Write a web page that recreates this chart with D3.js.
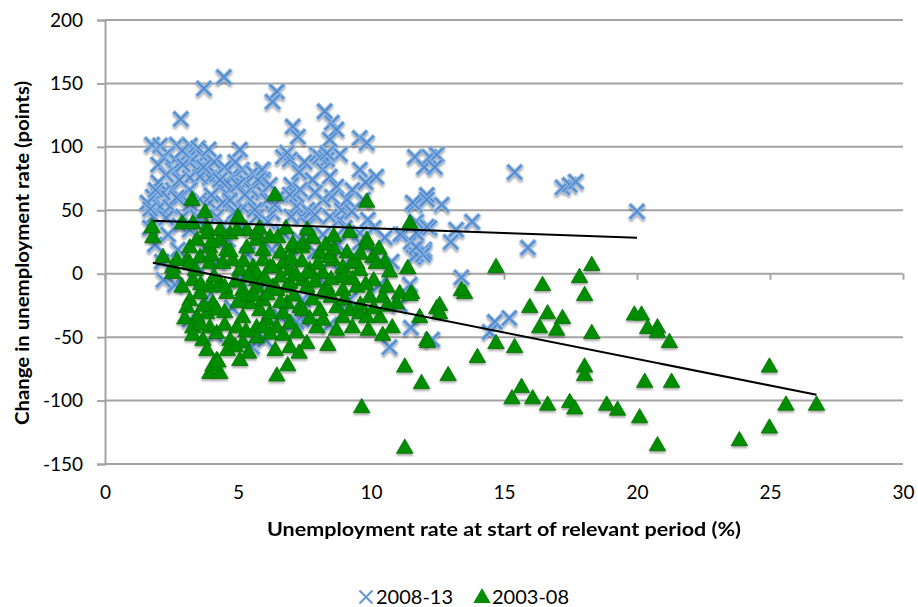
<!DOCTYPE html>
<html>
<head>
<meta charset="utf-8">
<script src="https://cdn.jsdelivr.net/npm/d3@7"></script>
<style>
  body { margin: 0; background: #fff; }
  svg { font-family: Lato, "Open Sans", sans-serif; }
</style>
</head>
<body>
<svg id="chart" width="918" height="607"></svg>
<script>
// Axis ticks
const xTicks = [0, 5, 10, 15, 20, 25, 30];
const yTicks = [-150, -100, -50, 0, 50, 100, 150, 200];

// Series names
const seriesNames = ["2008-13", "2003-08"];

// 2008-13: [unemployment rate at start (%), change in unemployment rate (points)]
const series2008 = [
  [4.47,155],[3.72,146],[2.85,122],[6.46,143.5],[6.3,135.6],
  [7.06,116],[7.25,108],[8.26,128],[8.53,119],[8.7,113.6],[8.45,105.7],[9.58,107],[9.84,103],
  [6.69,92],[6.95,90],[7.96,94],[8.34,90],[8.83,94],[8.19,82],[8.45,76.5],[9.58,82],[10.2,76.5],
  [7.0,70],[8.7,68.6],[8.53,60.7],[9.1,58.4],[8.2,58.4],[7.6,50.5],[5.94,82],[5.94,74],
  [6.84,95.4],[8.08,92],[8.34,95],
  [11.65,92],[12.2,92],[12.47,94],[12.0,84],[12.4,84],[15.4,80],[17.2,68],[17.47,70],[17.7,72.5],
  [12.1,62],[12.66,54.4],[11.65,54.4],[11.57,56],[12.1,58.4],[13.8,41],[13.2,34.7],[13.0,25],[12.2,36],[12.0,19],
  [15.9,20.5],[13.4,-3],[14.65,-38],[15.2,-35],[14.46,-46],[11.5,25],[12.0,17],[11.6,13],[11.2,31],[20.0,49],
  [11.5,-42.6],[12.3,-52],[11.7,15],[11.95,15],[10.7,-58],[11.7,21],[11.1,31],[11.7,32],[9.58,32],
  [7.4,-36],[6.6,-34],[7.1,-39],[10.1,36],
  [7.2,53],[7.4,45],[7.7,48],[8.45,45],[8.83,42.6],[11.7,41],[12.1,37],
  [1.77,101.7],[2.07,101],[2.7,101.7],[3.19,101],[3.5,99],[5.07,97.8],[2.37,95],[3.08,94],[2.63,90],[3.3,90],
  [2.55,82],[2.93,86],[3.46,82],[3.94,75.7],[3.57,76.5],[3.19,75.7],[4.8,78],[5.15,82],[5.56,79.7],[5.9,82],
  [5.75,74],[5.33,71.8],[4.7,66.2],[4.32,68.6],[3.19,66.2],[2.55,66.2],[2.18,63.9],[1.8,60.7],[1.6,56],
  [2.07,52.8],[2.44,52.8],[2.82,60],[3.57,58.4],[3.94,56],[4.43,56],[5.45,58.4],[5.94,63.9],
  [2.93,45],[3.46,45],[4.2,45],[4.96,45],[5.7,45],[1.8,45],
  [2.2,92],[2.9,97],[3.7,92],[4.1,88],[4.5,84],[4.9,88],[3.9,98],[2.0,86],[2.3,78],[2.8,74],[3.7,84],
  [4.2,78],[4.6,72],[5.0,70],[5.5,66],[2.0,72],[1.9,66],[2.7,60],[3.2,55],[4.0,62],[4.7,58],[5.2,52],
  [6.1,58],[6.6,62],[6.3,48],[7.0,45],[2.3,44],[2.8,38],[3.6,40],[4.4,38],[1.7,51],
  [7.5,88],[7.3,80],[7.8,74],[7.2,62],[7.9,64],[8.9,50],[9.3,66],[9.8,72],
  [1.69,36.3],[1.88,22.9],[2.14,9.5],[2.37,30.8],[2.74,18.9],[3.19,34.7],[3.42,7.1],[3.76,20.5],[4.25,9.5],
  [4.62,26.8],[5.07,36.3],[5.37,15],[5.75,28.4],[6.12,41],[6.27,18.9],[6.65,33],[6.95,11],[7.33,26.8],
  [7.63,38.6],[7.89,17.4],[8.19,30.8],[8.45,9.5],[8.75,22.9],[9.02,36.3],[9.28,12.6],[9.58,24.4],
  [9.88,42.6],[10.14,15],[10.52,28.4],[10.78,9.5],
  [5.63,50.5],[6.39,54.4],[4.88,48.9],[7.89,46.5],[9.28,48.9],[9.7,58.4],[6.95,62.3],[4.32,74],[6.2,70],
  [7.33,66.2],[5.26,62.3],
  [4.77,-26.8],[5.52,-57.6],[5.82,-12.6],[7.2,-37.9],[7.44,-20.5],[10.33,-8.7],[9.2,-20.5],[8.45,-40.2],
  [3.76,-20.5],[2.63,-8.7],[2.2,-5],[5.07,-4.7],[8.08,-4.7],[6.01,-52],[4.13,-48.1],[3.19,-36.3],
  [11.46,-8.7],[11.08,-24.4]
];

// 2003-08: [unemployment rate at start (%), change in unemployment rate (points)]
const series2003 = [
  [1.8,29],[1.77,37],[2.18,13.4],[2.55,5.5],[2.9,40],[3.3,40],[3.27,58.4],[3.76,48.9],[3.83,37],[5.0,45],
  [6.39,62.3],[9.84,57],[11.46,40],
  [3.19,21],[3.46,27],[3.83,32],[3.94,21],[4.32,27],[4.58,19],[5.33,21],[5.7,27],[5.94,19],[5.33,34.7],
  [4.7,32],[4.32,34.7],[4.96,34.7],[5.7,32],
  [3.57,13.4],[3.08,11],[3.94,8.7],[4.43,8.7],[5.07,3.2],[5.56,3.2],[2.7,11],[3.19,8.7],[2.55,0.8],
  [5.94,11],[4.8,11],[6.2,5.5],[5.56,5.5],
  [3.3,-4.7],[3.94,-10],[3.19,-20.5],[3.57,-15],[4.32,-7],[4.58,-15],[4.06,-23],[3.08,-26],[3.46,-34],
  [3.83,-31],[4.2,-28],[3.3,-42],[3.94,-42],[4.2,-46.5],[3.68,-52],[3.83,-60],[4.2,-67.8],[3.94,-78],
  [4.32,-78],[5.07,-67.8],[4.7,-52],[4.96,-42],[5.18,-34],[5.45,-23],[5.18,-12.6],[5.7,-10],[5.82,-28.4],
  [5.7,-42],[5.18,-54],[5.7,-4.7],[4.06,-72],[4.25,-69],
  [6.46,-80],[6.87,-72],[6.95,-57.6],[7.59,-54.4],[8.38,-56],[7.96,-42],
  [6.2,29],[6.5,29],[7.06,21],[7.4,21],[7.8,28.4],[6.69,8.7],[6.3,5.5],[7.7,3.2],[8.19,0.8],[8.83,-2.4],
  [9.47,-10],[9.95,-18],[10.44,-18],[11.08,-15],[11.53,-15],[10.96,-23],[10.33,-34],[11.83,-34],
  [10.44,-48],[12.1,-52],
  [7.33,-26],[6.69,-31],[6.08,-36],[5.94,-20.5],[7.44,-4.7],[8.34,-10],[8.94,-12.6],[6.84,-10],[6.3,-10],
  [8.08,16.5],[8.57,11],[8.94,5.5],
  [7.59,0.8],[6.95,3.2],[5.7,0.8],[7.59,-10],[8.19,-15],[8.72,-26],[9.2,-28.4],[8.08,-28.4],[7.44,-28.4],
  [6.84,-23],[6.46,-12.6],[6.2,-31],[6.95,-38.6],[6.46,-42],[5.94,-42],[5.7,-50],[6.95,-7],[5.18,-18],
  [8.94,-34],[9.58,-31],[9.84,-34],
  [9.84,27],[10.07,13.4],[10.52,9.5],[9.47,8.7],[11.38,4.7],[9.58,3.2],[9.32,9.5],[10.2,8.7],[8.45,13.4],
  [9.84,24],[7.06,24],[7.44,24],[7.8,29],
  [4.0,15],[4.7,18],[5.2,10],[6.6,17],[7.0,12],[7.4,10],[8.0,8],[8.6,20],[9.1,17],[9.6,16],[10.3,20],
  [10.7,2],[10.1,-5],
  [3.6,-8],[4.1,-2],[4.9,-6],[5.4,-2],[6.0,-3],[6.6,-2],[7.2,-1],[7.9,-6],[8.5,-4],[9.0,-2],[9.8,-8],[10.6,-10],
  [3.7,-25],[4.5,-30],[5.0,-22],[5.6,-17],[6.1,-16],[6.6,-22],[7.1,-17],[7.8,-20],[8.5,-18],[9.0,-20],
  [9.6,-24],[10.1,-27],[10.6,-25],
  [3.6,-40],[4.5,-40],[5.3,-45],[6.2,-47],[6.7,-48],[7.2,-46],[7.7,-35],[8.2,-36],[8.7,-44],[9.3,-42],
  [9.9,-44],[10.8,-42],
  [4.6,-60],[5.4,-62],[4.9,-57],[6.4,-60],[7.3,-62],
  [4.0,25],[4.5,-10],[3.4,3],[2.9,-10],[3.0,-35],[3.3,-48],[5.8,36],[6.8,36],[7.6,35],[8.6,30],[9.2,33],
  [8.3,23],[9.3,-4],
  [9.65,-105],[11.27,-137],[11.27,-73],[11.9,-86],[11.46,-16.6],[12.47,-27],[12.58,-24.4],[12.58,-31],
  [14.7,5.5],[16.45,-8.7],[18.3,7.1],[17.84,-2.4],[18.03,-16.6],[15.97,-26],[16.64,-31],[17.2,-34.7],
  [16.34,-42],[16.98,-44],[18.3,-46.5],[13.52,-15],[13.4,-12.6],
  [12.13,-53.6],[14.7,-54.4],[15.4,-57.6],[14.0,-65.5],[12.9,-79.7],[18.03,-73],[18.03,-79.7],[15.66,-89],
  [15.3,-98],[16.08,-98],[16.64,-103],[17.47,-101],[17.66,-106],[18.86,-103],[19.27,-107],[20.1,-113],
  [20.29,-85],[21.3,-85],[19.9,-32],[20.17,-32],[20.4,-42.6],[20.77,-42],[20.77,-45.7],[21.22,-53.6],
  [20.77,-135],[23.85,-131],[24.98,-121],[24.98,-73],[25.6,-103],[26.75,-103]
];

// Linear trend lines (start and end points)
const trend2008 = [[1.8, 41.8], [20.0, 28.4]];
const trend2003 = [[1.8, 8.7], [26.75, -95.4]];

const svg = d3.select("#chart");
const margin = { left: 105, right: 15, top: 20, bottom: 143 };
const W = 918, H = 607;

const x = d3.scaleLinear().domain([0, 30]).range([margin.left, W - margin.right]);
const y = d3.scaleLinear().domain([-150, 200]).range([H - margin.bottom, margin.top]);

const gridColor = "#a3a3a3";
const fontStack = "Lato, 'Open Sans', sans-serif";
const plainNumber = d => String(d);   // hyphen-minus, as in the spreadsheet labels

// Marker shadow
const defs = svg.append("defs");
const f = defs.append("filter").attr("id", "shadow")
  .attr("x", "-20%").attr("y", "-20%").attr("width", "140%").attr("height", "140%");
f.append("feDropShadow").attr("dx", 0).attr("dy", 2).attr("stdDeviation", 1.3)
  .attr("flood-color", "#000").attr("flood-opacity", 0.35);

// Horizontal gridlines
svg.append("g")
  .selectAll("line")
  .data(yTicks)
  .join("line")
  .attr("x1", x(0)).attr("x2", x(30))
  .attr("y1", d => y(d)).attr("y2", d => y(d))
  .attr("stroke", gridColor).attr("stroke-width", 2);

// Y axis
const yAxis = svg.append("g")
  .attr("transform", `translate(${x(0)},0)`)
  .call(d3.axisLeft(y).tickValues(yTicks).tickSize(8).tickPadding(14).tickFormat(plainNumber));
yAxis.select(".domain").attr("stroke", gridColor).attr("stroke-width", 2);
yAxis.selectAll(".tick line").attr("stroke", gridColor).attr("stroke-width", 2);
yAxis.selectAll(".tick text")
  .attr("font-size", 19).attr("fill", "#000").attr("font-family", fontStack);

// X axis ticks on the zero line
const xAxisTicks = svg.append("g")
  .attr("transform", `translate(0,${y(0)})`)
  .call(d3.axisBottom(x).tickValues(xTicks).tickSize(6).tickFormat(""));
xAxisTicks.select(".domain").remove();
xAxisTicks.selectAll(".tick line").attr("stroke", gridColor).attr("stroke-width", 2);

// X tick labels below the plot
const xAxisLabels = svg.append("g")
  .attr("transform", `translate(0,${y(-150)})`)
  .call(d3.axisBottom(x).tickValues(xTicks).tickSize(0).tickPadding(22).tickFormat(plainNumber));
xAxisLabels.select(".domain").remove();
xAxisLabels.selectAll(".tick text")
  .attr("font-size", 19).attr("fill", "#000").attr("font-family", fontStack);

// Markers
const xMark = r => `M${-r},${-r}L${r},${r}M${-r},${r}L${r},${-r}`;

const g2008 = svg.append("g").attr("filter", "url(#shadow)");
const marks2008 = g2008.selectAll("g")
  .data(series2008)
  .join("g")
  .attr("transform", d => `translate(${x(d[0])},${y(d[1])})`);
marks2008.append("path").attr("d", xMark(7.5))
  .attr("stroke", "#8ab3e2").attr("stroke-width", 4.2).attr("fill", "none");
marks2008.append("path").attr("d", xMark(7))
  .attr("stroke", "#4f87cb").attr("stroke-width", 1.6).attr("fill", "none");

const triangle = d3.symbol().type(d3.symbolTriangle).size(118);
svg.append("g").attr("filter", "url(#shadow)")
  .selectAll("path")
  .data(series2003)
  .join("path")
  .attr("d", triangle)
  .attr("transform", d => `translate(${x(d[0])},${y(d[1]) + 1})`)
  .attr("fill", "#008d00")
  .attr("stroke", "#007400").attr("stroke-width", 0.8);

// Trend lines
const line = d3.line().x(d => x(d[0])).y(d => y(d[1]));
[trend2008, trend2003].forEach(t => {
  svg.append("path").datum(t).attr("d", line)
    .attr("fill", "none").attr("stroke", "#000").attr("stroke-width", 2);
});

// Axis titles
svg.append("text")
  .attr("x", (x(0) + x(30)) / 2).attr("y", 536)
  .attr("text-anchor", "middle")
  .attr("font-size", 19).attr("font-weight", "bold")
  .attr("textLength", 474).attr("lengthAdjust", "spacingAndGlyphs")
  .text("Unemployment rate at start of relevant period (%)");

svg.append("text")
  .attr("transform", `translate(29,253) rotate(-90)`)
  .attr("text-anchor", "middle")
  .attr("font-size", 19).attr("font-weight", "bold")
  .attr("textLength", 344).attr("lengthAdjust", "spacingAndGlyphs")
  .text("Change in unemployment rate (points)");

// Legend
const legend = svg.append("g").attr("transform", "translate(0,597)");
legend.append("path").attr("d", xMark(6.5))
  .attr("transform", "translate(366,0)")
  .attr("stroke", "#6a9ad3").attr("stroke-width", 2.2).attr("fill", "none");
legend.append("text").attr("x", 376).attr("y", 0).attr("dy", "0.36em")
  .attr("font-size", 20).text(seriesNames[0]);
legend.append("path").attr("d", d3.symbol().type(d3.symbolTriangle).size(130))
  .attr("transform", "translate(482,1)")
  .attr("fill", "#008d00");
legend.append("text").attr("x", 492).attr("y", 0).attr("dy", "0.36em")
  .attr("font-size", 20).text(seriesNames[1]);
</script>
</body>
</html>
